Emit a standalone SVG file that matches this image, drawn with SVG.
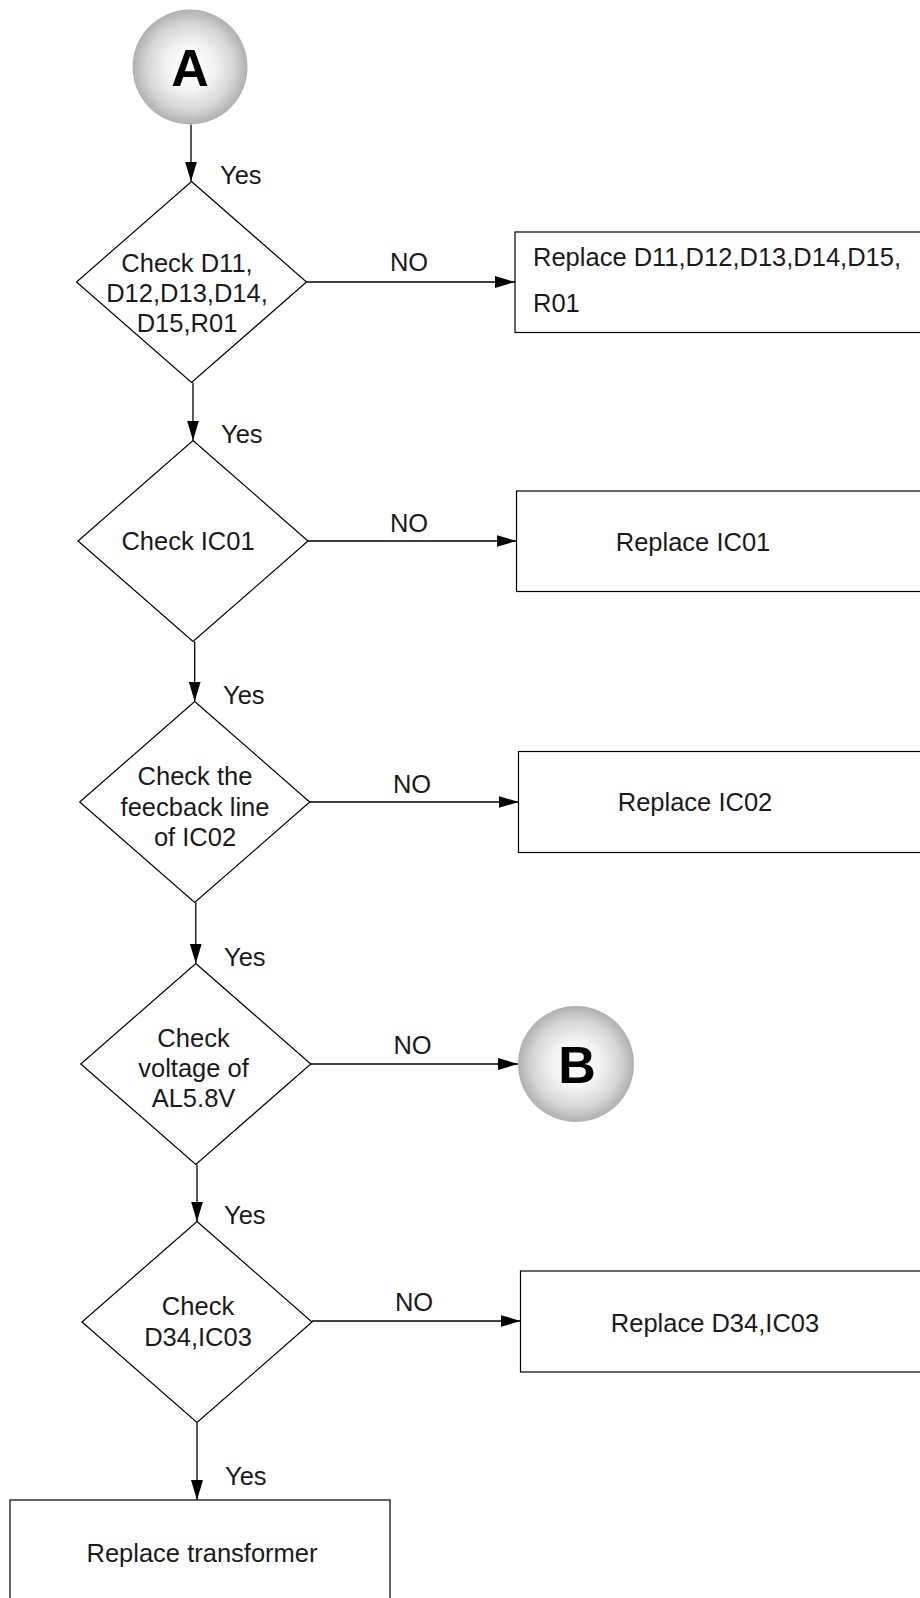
<svg xmlns="http://www.w3.org/2000/svg" width="920" height="1598" viewBox="0 0 920 1598">
<style>
text{font-family:"Liberation Sans",Arial,sans-serif;font-size:25.5px;fill:#1a1a1a}
.mid{text-anchor:middle}
.shape{fill:#fff;stroke:#000;stroke-width:1.2}
.conn{stroke:#000;stroke-width:1.3;fill:none}
.big{font-size:52px;font-weight:bold;fill:#000;text-anchor:middle}
</style>
<defs>
<radialGradient id="ball" cx="0.5" cy="0.5" r="0.5">
<stop offset="0" stop-color="#ffffff"/>
<stop offset="0.4" stop-color="#f4f4f4"/>
<stop offset="0.75" stop-color="#d6d6d6"/>
<stop offset="1" stop-color="#b0b0b0"/>
</radialGradient>
<marker id="arr" markerUnits="userSpaceOnUse" markerWidth="20" markerHeight="12" refX="20" refY="6" orient="auto">
<path d="M0,0 L20,6 L0,12 z" fill="#000"/>
</marker>
</defs>

<g id="connectors">
<line class="conn" x1="191" y1="124.5" x2="191" y2="181.5" marker-end="url(#arr)"/>
<line class="conn" x1="193" y1="382.5" x2="193" y2="440.5" marker-end="url(#arr)"/>
<line class="conn" x1="194.7" y1="641.5" x2="194.7" y2="701.5" marker-end="url(#arr)"/>
<line class="conn" x1="195.8" y1="902.5" x2="195.8" y2="963.5" marker-end="url(#arr)"/>
<line class="conn" x1="197" y1="1164.5" x2="197" y2="1221.5" marker-end="url(#arr)"/>
<line class="conn" x1="197" y1="1422.5" x2="197" y2="1500" marker-end="url(#arr)"/>
<line class="conn" x1="306.5" y1="282" x2="515" y2="282" marker-end="url(#arr)"/>
<line class="conn" x1="308" y1="541" x2="516.5" y2="541" marker-end="url(#arr)"/>
<line class="conn" x1="309.7" y1="802" x2="518.5" y2="802" marker-end="url(#arr)"/>
<line class="conn" x1="310.8" y1="1064" x2="518" y2="1064" marker-end="url(#arr)"/>
<line class="conn" x1="312" y1="1321" x2="520.5" y2="1321" marker-end="url(#arr)"/>
<text x="220" y="183.5">Yes</text>
<text x="221" y="442.5">Yes</text>
<text x="223" y="703.5">Yes</text>
<text x="224" y="965.5">Yes</text>
<text x="224" y="1224">Yes</text>
<text x="225" y="1485">Yes</text>
<text class="mid" x="409" y="271">NO</text>
<text class="mid" x="409" y="532">NO</text>
<text class="mid" x="412" y="793">NO</text>
<text class="mid" x="412.5" y="1054">NO</text>
<text class="mid" x="414" y="1311">NO</text>
</g>

<g id="startA">
<circle cx="190" cy="67" r="57.5" fill="url(#ball)"/>
<text class="big" x="190" y="86">A</text>
</g>

<g id="check1">
<polygon class="shape" points="191.5,181.5 306.5,282 191.5,382.5 76.5,282"/>
<text class="mid" x="187" y="272">Check D11,</text>
<text class="mid" x="187" y="302">D12,D13,D14,</text>
<text class="mid" x="187" y="332">D15,R01</text>
</g>
<g id="replace1">
<rect class="shape" x="515" y="232" width="420" height="100.5"/>
<text x="533" y="266">Replace D11,D12,D13,D14,D15,</text>
<text x="533" y="312">R01</text>
</g>

<g id="check2">
<polygon class="shape" points="193,440.5 308,541 193,641.5 78,541"/>
<text class="mid" x="188" y="549.5">Check IC01</text>
</g>
<g id="replace2">
<rect class="shape" x="516.5" y="491" width="420" height="100.5"/>
<text class="mid" x="693" y="550.5">Replace IC01</text>
</g>

<g id="check3">
<polygon class="shape" points="194.7,701.5 309.7,802 194.7,902.5 79.7,802"/>
<text class="mid" x="195" y="785">Check the</text>
<text class="mid" x="195" y="816">feecback line</text>
<text class="mid" x="195" y="846">of IC02</text>
</g>
<g id="replace3">
<rect class="shape" x="518.5" y="751.5" width="420" height="101"/>
<text class="mid" x="695" y="811">Replace IC02</text>
</g>

<g id="check4">
<polygon class="shape" points="195.8,963.5 310.8,1064 195.8,1164.5 80.8,1064"/>
<text class="mid" x="193.5" y="1047">Check</text>
<text class="mid" x="193.5" y="1077">voltage of</text>
<text class="mid" x="193.5" y="1107">AL5.8V</text>
</g>
<g id="connectorB">
<circle cx="576" cy="1064" r="58" fill="url(#ball)"/>
<text class="big" x="577" y="1083">B</text>
</g>

<g id="check5">
<polygon class="shape" points="197,1221.5 312,1322 197,1422.5 82,1322"/>
<text class="mid" x="198" y="1315">Check</text>
<text class="mid" x="198" y="1346">D34,IC03</text>
</g>
<g id="replace5">
<rect class="shape" x="520.5" y="1271" width="420" height="101"/>
<text class="mid" x="715" y="1331.5">Replace D34,IC03</text>
</g>

<g id="replaceTransformer">
<rect class="shape" x="10" y="1500" width="380" height="130"/>
<text class="mid" x="202" y="1561.5">Replace transformer</text>
</g>
</svg>
